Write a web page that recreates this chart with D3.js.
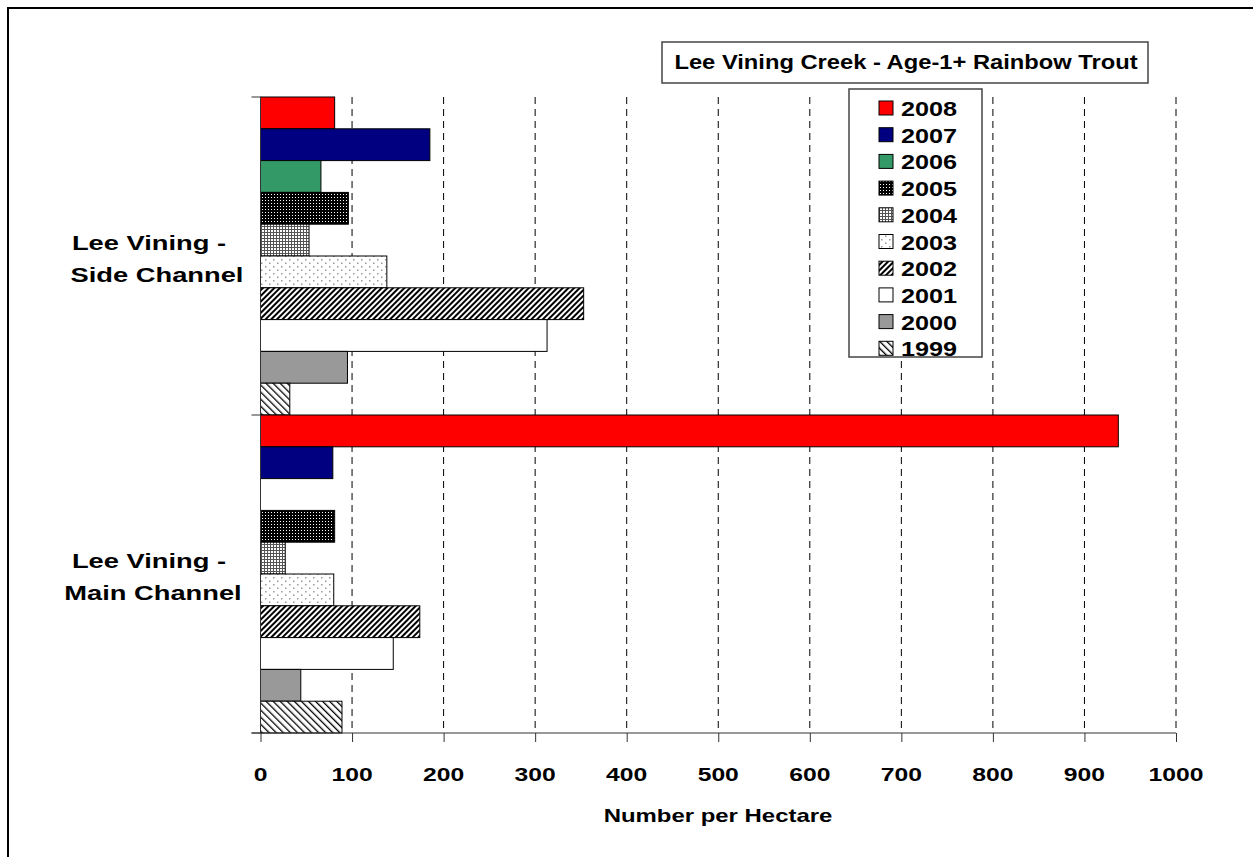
<!DOCTYPE html>
<html>
<head>
<meta charset="utf-8">
<script src="https://cdn.jsdelivr.net/npm/d3@7"></script>
<style>
  html, body { margin: 0; padding: 0; background: #fff; }
  svg { display: block; }
  text { font-family: "Liberation Sans", Arial, sans-serif; font-weight: bold; fill: #000; }
</style>
</head>
<body>
<svg id="chart" width="1253" height="857"></svg>
<script>
// Age-1+ rainbow trout density by reach and year
const categories = ["Lee Vining - Side Channel", "Lee Vining - Main Channel"];
const categoryLines = [["Lee Vining -", "Side Channel"], ["Lee Vining -", "Main Channel"]];
const years = ["2008", "2007", "2006", "2005", "2004", "2003", "2002", "2001", "2000", "1999"];
const sideChannel = [81, 185, 66, 96, 53, 138, 353, 313, 95, 32];
const mainChannel = [937, 79, null, 81, 27, 80, 174, 145, 44, 89];
const xTicks = [0, 100, 200, 300, 400, 500, 600, 700, 800, 900, 1000];
const chartTitle = "Lee Vining Creek - Age-1+ Rainbow Trout";
const xAxisTitle = "Number per Hectare";

const seriesValues = [sideChannel, mainChannel];

const svg = d3.select("#chart");

// Fill patterns for each year
const defs = svg.append("defs");
function pat(id, w, h, transform) {
  const p = defs.append("pattern").attr("id", id)
    .attr("patternUnits", "userSpaceOnUse").attr("width", w).attr("height", h);
  if (transform) p.attr("patternTransform", transform);
  return p;
}
// dark dotted grid
let p = pat("p2005", 3, 3);
p.append("rect").attr("width", 3).attr("height", 3).attr("fill", "#000");
p.append("rect").attr("x", 1).attr("y", 1).attr("width", 1).attr("height", 1).attr("fill", "#fff");
// light dotted grid
p = pat("p2004", 3, 3);
p.append("rect").attr("width", 3).attr("height", 3).attr("fill", "#fff");
p.append("rect").attr("x", 0).attr("y", 0).attr("width", 3).attr("height", 1).attr("fill", "#555");
p.append("rect").attr("x", 0).attr("y", 0).attr("width", 1).attr("height", 3).attr("fill", "#555");
// sparse grey dots
p = pat("p2003", 8, 7);
p.append("rect").attr("width", 8).attr("height", 7).attr("fill", "#fff");
p.append("rect").attr("x", 1).attr("y", 1).attr("width", 1.5).attr("height", 1.5).attr("fill", "#999");
p.append("rect").attr("x", 5).attr("y", 4.5).attr("width", 1.5).attr("height", 1.5).attr("fill", "#999");
// dark upward diagonal
p = pat("p2002", 4, 4, "rotate(45)");
p.append("rect").attr("width", 4).attr("height", 4).attr("fill", "#fff");
p.append("rect").attr("width", 2).attr("height", 4).attr("fill", "#000");
// light downward diagonal
p = pat("p1999", 5, 5, "rotate(-45)");
p.append("rect").attr("width", 5).attr("height", 5).attr("fill", "#fff");
p.append("rect").attr("width", 1.3).attr("height", 5).attr("fill", "#000");

const fills = {
  "2008": "#ff0000", "2007": "#000080", "2006": "#339966",
  "2005": "url(#p2005)", "2004": "url(#p2004)", "2003": "url(#p2003)",
  "2002": "url(#p2002)", "2001": "#ffffff", "2000": "#999999", "1999": "url(#p1999)"
};

// Stretched bold text helper
function label(parent, str, x, y, size, sx, anchor) {
  return parent.append("text")
    .attr("transform", `translate(${x},${y}) scale(${sx},1)`)
    .attr("text-anchor", anchor || "middle")
    .style("font-size", size + "px")
    .text(str);
}

// Outer chart frame
svg.append("rect").attr("x", 8).attr("y", 8).attr("width", 1260).attr("height", 870)
  .attr("fill", "none").attr("stroke", "#000").attr("stroke-width", 2);

const plot = { left: 260.5, right: 1176, top: 97, bottom: 733 };

const x = d3.scaleLinear().domain([0, 1000]).range([plot.left, plot.right]);
const y0 = d3.scaleBand().domain(categories).range([plot.top, plot.bottom]).padding(0);
const y1 = d3.scaleBand().domain(years).range([0, y0.bandwidth()]).padding(0);

// Dashed vertical gridlines
svg.append("g").selectAll("line").data(xTicks.filter(d => d > 0)).join("line")
  .attr("x1", d => x(d)).attr("x2", d => x(d))
  .attr("y1", plot.top).attr("y2", plot.bottom)
  .attr("stroke", "#000").attr("stroke-width", 1).attr("stroke-dasharray", "7,5");

// Bars
const groups = svg.append("g").selectAll("g").data(categories).join("g")
  .attr("transform", d => `translate(0,${y0(d)})`);
groups.selectAll("rect")
  .data((c, i) => years.map((yr, j) => ({ yr, v: seriesValues[i][j] })).filter(d => d.v != null))
  .join("rect")
  .attr("x", x(0))
  .attr("y", d => y1(d.yr))
  .attr("width", d => x(d.v) - x(0))
  .attr("height", y1.bandwidth())
  .attr("fill", d => fills[d.yr])
  .attr("stroke", "#000").attr("stroke-width", 1);

// X axis
const xAxis = svg.append("g").attr("transform", `translate(0,${plot.bottom})`)
  .call(d3.axisBottom(x).tickValues(xTicks).tickSize(9).tickFormat(""));
xAxis.select(".domain").attr("stroke", "#333").attr("d", `M${plot.left - 9},0H${plot.right}`);
xAxis.selectAll(".tick line").attr("stroke", "#333");
xTicks.forEach(t => label(svg, String(t), x(t), 781, 19, 1.3));

// Y axis with category boundary ticks
const yAxis = svg.append("g").attr("transform", `translate(${plot.left},0)`);
yAxis.append("line").attr("x1", 0).attr("x2", 0).attr("y1", plot.top).attr("y2", plot.bottom)
  .attr("stroke", "#333");
const bounds = [plot.top, y0(categories[1]), plot.bottom];
yAxis.selectAll(".bt").data(bounds).join("line").attr("class", "bt")
  .attr("x1", -9).attr("x2", 0).attr("y1", d => d).attr("y2", d => d).attr("stroke", "#333");

// Category labels (two lines each)
const secondLineX = [157, 153];
categoryLines.forEach((lines, i) => {
  const cy = y0(categories[i]) + y0.bandwidth() / 2;
  label(svg, lines[0], 149, cy - 6, 21, 1.3);
  label(svg, lines[1], secondLineX[i], cy + 26, 21, 1.3);
});

// Axis title
label(svg, xAxisTitle, 718, 822, 18, 1.33);

// Title box
svg.append("rect").attr("x", 662).attr("y", 42).attr("width", 486).attr("height", 41)
  .attr("fill", "#fff").attr("stroke", "#444").attr("stroke-width", 1.5);
label(svg, chartTitle, 906, 69, 21, 1.13);

// Legend
const lg = svg.append("g");
lg.append("rect").attr("x", 849).attr("y", 89).attr("width", 133).attr("height", 268)
  .attr("fill", "#fff").attr("stroke", "#444").attr("stroke-width", 1.5);
years.forEach((yr, i) => {
  const cy = 108 + i * 26.7;
  lg.append("rect").attr("x", 879).attr("y", cy - 7).attr("width", 14).attr("height", 14)
    .attr("fill", fills[yr]).attr("stroke", "#000").attr("stroke-width", 1);
  label(lg, yr, 901, cy + 8, 21, 1.2, "start");
});
</script>
</body>
</html>
